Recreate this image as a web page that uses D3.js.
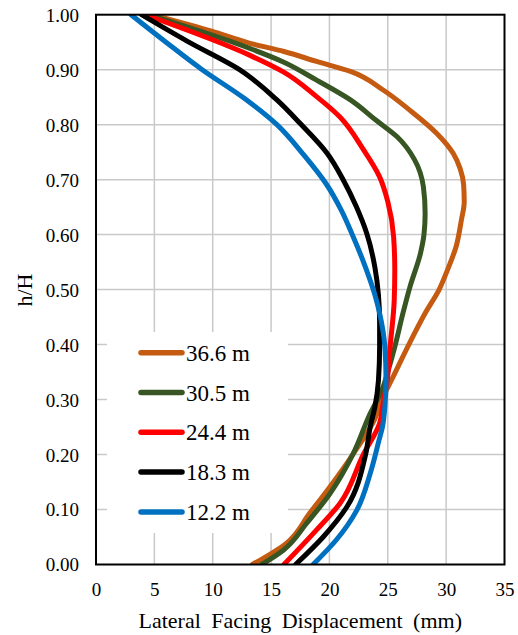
<!DOCTYPE html>
<html>
<head>
<meta charset="utf-8">
<script src="https://cdn.jsdelivr.net/npm/d3@7"></script>
<style>
  html, body { margin: 0; padding: 0; background: #fff; }
  svg { display: block; }
</style>
</head>
<body>
<svg id="chart" width="518" height="635"></svg>
<script>
// ---- data ----
const seriesNames = ["36.6 m", "30.5 m", "24.4 m", "18.3 m", "12.2 m"];
const seriesColors = ["#C55A11", "#375623", "#FF0000", "#000000", "#0070C0"];

const h366 = [1.0, 0.97, 0.948, 0.933, 0.915, 0.897, 0.863, 0.826, 0.784, 0.748, 0.72, 0.69, 0.66, 0.626, 0.578, 0.535, 0.5, 0.457, 0.4, 0.341, 0.3, 0.263, 0.2, 0.1415, 0.093, 0.0385, 0];
const x366 = [4.8, 9.9, 13.2, 16.1, 18.9, 21.8, 24.6, 26.9, 29.2, 30.6, 31.2, 31.5, 31.55, 31.3, 30.85, 30.1, 29.4, 28.2, 26.8, 25.45, 24.5, 23.85, 22.0, 20.05, 18.3, 16.3, 13.4];

const h305 = [1.0, 0.9385, 0.914, 0.881, 0.845, 0.808, 0.778, 0.736, 0.687, 0.639, 0.6, 0.566, 0.505, 0.457, 0.396, 0.354, 0.317, 0.275, 0.202, 0.129, 0.075, 0.026, 0];
const x305 = [4.5, 13.2, 16.05, 18.9, 21.8, 24.0, 25.8, 27.3, 28.05, 28.2, 28.1, 27.8, 26.9, 26.3, 25.6, 25.05, 24.5, 23.5, 22.05, 20.05, 18.05, 16.05, 14.2];

const h244 = [1.0, 0.926, 0.896, 0.851, 0.814, 0.755, 0.705, 0.66, 0.596, 0.535, 0.48, 0.396, 0.335, 0.293, 0.257, 0.2, 0.111, 0.063, 0];
const x244 = [4.2, 13.2, 16.05, 18.9, 20.9, 22.9, 24.3, 25.0, 25.5, 25.6, 25.55, 25.2, 24.95, 24.6, 24.3, 22.9, 20.9, 18.9, 16.1];

const h183 = [1.0, 0.952, 0.9, 0.845, 0.802, 0.748, 0.699, 0.651, 0.602, 0.54, 0.49, 0.44, 0.396, 0.335, 0.287, 0.251, 0.2, 0.105, 0.051, 0];
const x183 = [3.9, 7.8, 12.3, 15.5, 17.5, 19.8, 21.2, 22.3, 23.2, 23.9, 24.2, 24.3, 24.3, 24.2, 23.9, 23.5, 23.1, 21.5, 19.5, 17.1];

const h122 = [1.0, 0.95, 0.9, 0.848, 0.8, 0.745, 0.693, 0.645, 0.598, 0.54, 0.49, 0.457, 0.396, 0.335, 0.287, 0.251, 0.226, 0.166, 0.099, 0.045, 0];
const x122 = [3.0, 6.0, 9.1, 12.7, 15.5, 17.8, 19.7, 21.0, 22.0, 23.1, 23.9, 24.3, 24.75, 24.85, 24.75, 24.55, 24.25, 23.5, 22.35, 20.6, 18.6];

const xTicks = [0, 5, 10, 15, 20, 25, 30, 35];
const yTicks = [0, 0.1, 0.2, 0.3, 0.4, 0.5, 0.6, 0.7, 0.8, 0.9, 1.0];
const xTitle = "Lateral Facing Displacement (mm)";
const yTitle = "h/H";

const seriesH = [h366, h305, h244, h183, h122];
const seriesX = [x366, x305, x244, x183, x122];

const FONT = "Liberation Serif";

// ---- layout ----
const plot = { left: 96, right: 504.5, top: 14.7, bottom: 564.5 };
const svg = d3.select("#chart").attr("font-family", FONT);

const x = d3.scaleLinear().domain([0, 35]).range([plot.left, plot.right]);
const y = d3.scaleLinear().domain([0, 1]).range([plot.bottom, plot.top]);

// gridlines
const grid = svg.append("g");
grid.selectAll("line.v").data(xTicks.slice(1, -1)).join("line")
  .attr("x1", d => x(d)).attr("x2", d => x(d))
  .attr("y1", plot.top).attr("y2", plot.bottom)
  .attr("stroke", "#c9c9c9").attr("stroke-width", 1.5);
grid.selectAll("line.h").data(yTicks.slice(1, -1)).join("line")
  .attr("x1", plot.left).attr("x2", plot.right)
  .attr("y1", d => y(d)).attr("y2", d => y(d))
  .attr("stroke", "#c9c9c9").attr("stroke-width", 1.5);

// axes (labels only, no tick marks)
const xAxis = d3.axisBottom(x).tickValues(xTicks).tickFormat(d3.format("d")).tickSize(0).tickPadding(0);
const gx = svg.append("g").attr("transform", `translate(0,${plot.bottom})`).call(xAxis)
  .attr("font-family", FONT).attr("font-size", 19);
gx.select(".domain").remove();
gx.selectAll("text").attr("y", 31).attr("dy", 0).attr("fill", "#000");

const yAxis = d3.axisLeft(y).tickValues(yTicks).tickFormat(d3.format(".2f")).tickSize(0).tickPadding(0);
const gy = svg.append("g").attr("transform", `translate(${plot.left},0)`).call(yAxis)
  .attr("font-family", FONT).attr("font-size", 19);
gy.select(".domain").remove();
gy.selectAll("text").attr("x", -17).attr("dy", "0.34em").attr("fill", "#000");

// curves
const line = d3.line()
  .x(d => x(d[0]))
  .y(d => y(d[1]))
  .curve(d3.curveMonotoneY);

svg.append("clipPath").attr("id", "pc").append("rect")
  .attr("x", plot.left).attr("y", plot.top)
  .attr("width", plot.right - plot.left).attr("height", plot.bottom - plot.top);

const curves = svg.append("g").attr("clip-path", "url(#pc)");
seriesNames.forEach((name, i) => {
  const pts = seriesX[i].map((v, j) => [v, seriesH[i][j]]);
  curves.append("path")
    .attr("d", line(pts))
    .attr("fill", "none")
    .attr("stroke", seriesColors[i])
    .attr("stroke-width", 5)
    .attr("stroke-linejoin", "round")
    .attr("stroke-linecap", "round");
});

// plot border
svg.append("rect")
  .attr("x", plot.left).attr("y", plot.top)
  .attr("width", plot.right - plot.left).attr("height", plot.bottom - plot.top)
  .attr("fill", "none").attr("stroke", "#000").attr("stroke-width", 2);

// legend
const leg = svg.append("g");
leg.append("rect").attr("x", 107).attr("y", 332).attr("width", 181).attr("height", 201).attr("fill", "#fff");
seriesNames.forEach((name, i) => {
  const ly = 352.7 + i * 39.8;
  leg.append("line").attr("x1", 141).attr("x2", 182).attr("y1", ly).attr("y2", ly)
    .attr("stroke", seriesColors[i]).attr("stroke-width", 5.5).attr("stroke-linecap", "round");
  leg.append("text").attr("x", 186).attr("y", ly + 8)
    .attr("font-family", FONT).attr("font-size", 23).attr("fill", "#000").text(name);
});

// titles
svg.append("text")
  .attr("x", (plot.left + plot.right) / 2)
  .attr("y", 628)
  .attr("text-anchor", "middle")
  .attr("font-family", FONT).attr("font-size", 22).attr("fill", "#000")
  .style("word-spacing", "5px")
  .text(xTitle);

svg.append("text")
  .attr("transform", `translate(32,290) rotate(-90)`)
  .attr("text-anchor", "middle")
  .attr("font-family", FONT).attr("font-size", 22).attr("fill", "#000")
  .text(yTitle);
</script>
</body>
</html>
